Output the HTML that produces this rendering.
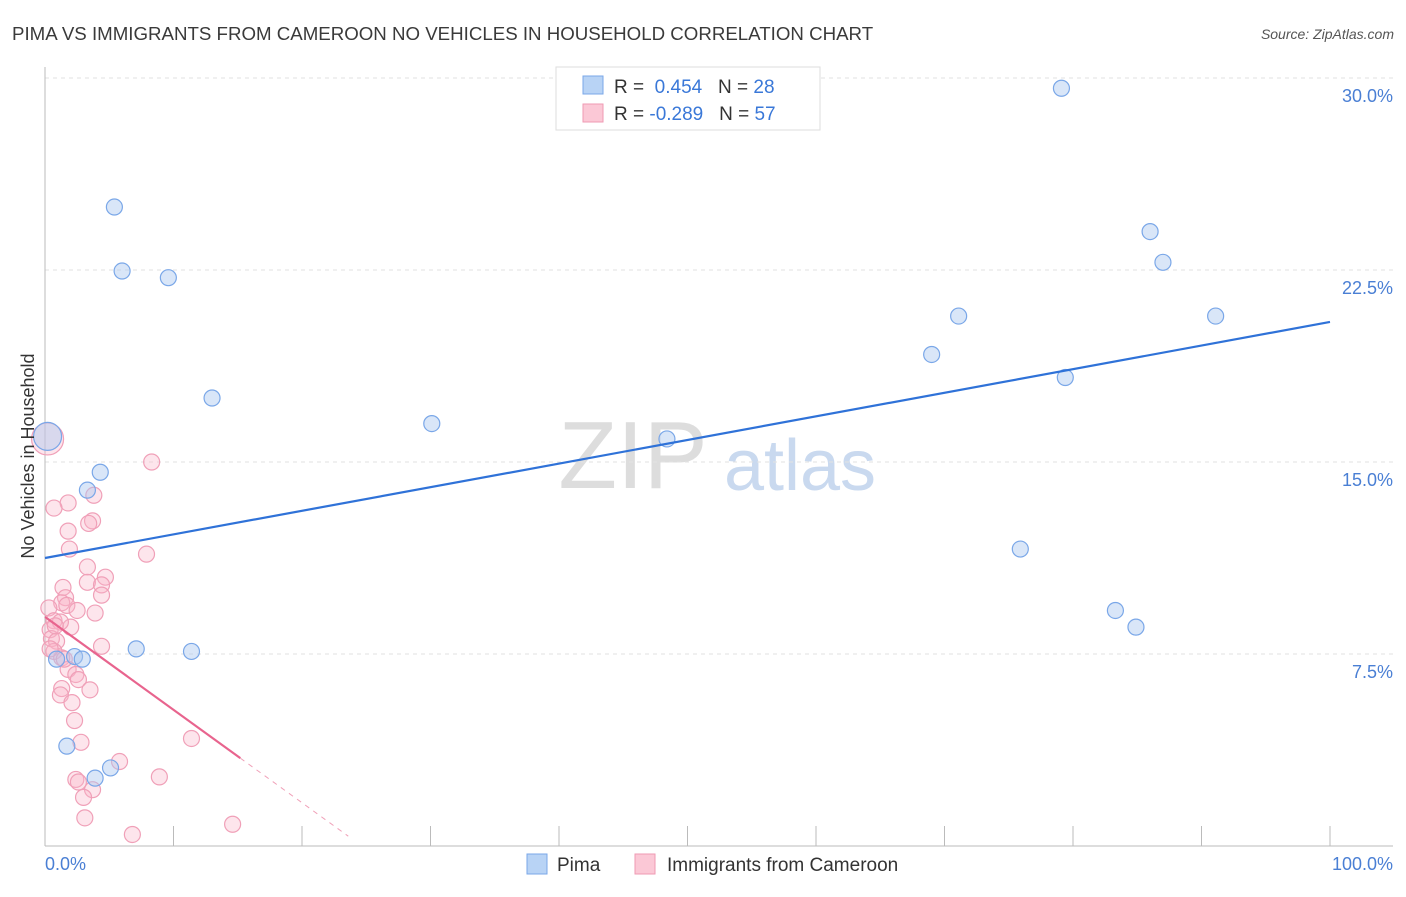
<!DOCTYPE html>
<html><head><meta charset="utf-8"><style>
body{margin:0;background:#fff;font-family:"Liberation Sans",sans-serif;}
svg text{font-family:"Liberation Sans",sans-serif;}
</style></head><body>
<svg width="1406" height="892" id="c">
<text x="12" y="40" font-size="18.7" fill="#3a3a3a">PIMA VS IMMIGRANTS FROM CAMEROON NO VEHICLES IN HOUSEHOLD CORRELATION CHART</text>
<text x="1394" y="39" font-size="14" fill="#555" text-anchor="end" font-style="italic">Source: ZipAtlas.com</text>
<text x="633" y="488" font-size="96" fill="#ddd" font-family="Liberation Serif" text-anchor="middle">ZIP</text>
<text x="800" y="490" font-size="72" fill="#c9d9ef" text-anchor="middle">atlas</text>
<g id="grid"></g><g id="axes"></g><g id="marks"></g>
<text transform="translate(34,456) rotate(-90)" font-size="18" fill="#333" text-anchor="middle">No Vehicles in Household</text>
<text x="45" y="870" font-size="18" fill="#4a7fd4">0.0%</text>
<text x="1393" y="870" font-size="18" fill="#4a7fd4" text-anchor="end">100.0%</text>
<g>
<rect x="556" y="67" width="264" height="63" fill="#fff" stroke="#ddd"/>
<rect x="583" y="76" width="20" height="18" fill="#b8d3f5" stroke="#7aa7e8"/>
<rect x="583" y="104" width="20" height="18" fill="#fbc8d6" stroke="#ef9ab3"/>
<text x="614" y="93" font-size="19" fill="#333">R = <tspan fill="#3a78d8">&#160;0.454</tspan>&#160;&#160;&#160;N = <tspan fill="#3a78d8">28</tspan></text>
<text x="614" y="120" font-size="19" fill="#333">R = <tspan fill="#3a78d8">-0.289</tspan>&#160;&#160;&#160;N = <tspan fill="#3a78d8">57</tspan></text>
</g>
<g>
<rect x="527" y="854" width="20" height="20" fill="#b8d3f5" stroke="#7aa7e8"/>
<text x="557" y="871" font-size="19" fill="#333">Pima</text>
<rect x="635" y="854" width="20" height="20" fill="#fbc8d6" stroke="#ef9ab3"/>
<text x="667" y="871" font-size="19" fill="#333">Immigrants from Cameroon</text>
</g>
</svg>
<script>
const yTicks=[7.5,15,22.5,30];
const yTickLabels=["7.5%","15.0%","22.5%","30.0%"];
const xTicks=[0,10,20,30,40,50,60,70,80,90,100];
const pimaX=[5.4,6.0,9.6,13.0,30.1,48.4,4.3,3.3,7.1,11.4,2.3,2.9,0.9,1.7,3.9,5.1,79.1,86.0,87.0,91.1,71.1,69.0,79.4,75.9,83.3,84.9,0.2];
const pimaY=[24.96,22.46,22.2,17.5,16.5,15.9,14.6,13.9,7.7,7.6,7.4,7.3,7.3,3.9,2.65,3.05,29.6,24.0,22.8,20.7,20.7,19.2,18.3,11.6,9.2,8.55,16.0];
const camX=[8.3,1.8,0.7,3.8,3.7,3.4,1.8,1.9,7.9,3.3,4.7,1.4,3.3,4.4,4.4,1.6,1.3,1.7,0.3,2.5,3.9,0.7,2.0,1.2,0.4,0.5,0.9,4.4,0.7,1.3,1.8,2.4,2.6,3.5,1.3,1.2,2.1,2.3,2.8,11.4,5.8,2.4,2.6,8.9,3.7,3.0,3.1,6.8,14.6,0.2,0.4,1.5,0.8];
const camY=[15.0,13.4,13.2,13.7,12.7,12.6,12.3,11.6,11.4,10.9,10.5,10.1,10.3,10.2,9.8,9.7,9.5,9.4,9.3,9.2,9.1,8.8,8.55,8.75,8.45,8.1,8.0,7.8,7.6,7.35,6.9,6.7,6.5,6.1,6.15,5.9,5.6,4.9,4.05,4.2,3.3,2.6,2.5,2.7,2.2,1.9,1.1,0.45,0.85,15.9,7.7,7.3,8.6];
const pimaTrend=[11.25,20.47];
const camTrend=[8.95,-0.363];
const X=v=>45+v*12.85, Y=v=>846-v*25.6;
const NS="http://www.w3.org/2000/svg";
function mk(p,t,a){const e=document.createElementNS(NS,t);for(const k in a)e.setAttribute(k,a[k]);p.appendChild(e);return e;}
const grid=document.getElementById('grid'),axes=document.getElementById('axes'),marks=document.getElementById('marks');
yTicks.forEach((t,i)=>{
 const l=mk(grid,'line',{x1:45,x2:1393,y1:Y(t),y2:Y(t),stroke:'#e2e2e2','stroke-dasharray':'4,4'});
 
 
 const tx=mk(grid,'text',{x:1393,y:Y(t)+24,'font-size':18,fill:'#4a7fd4','text-anchor':'end'});
 tx.textContent=yTickLabels[i];
 
 
});
const ya=mk(axes,'line',{x1:45,x2:45,y1:67,y2:846,stroke:'#bbb'});


const xa=mk(axes,'line',{x1:45,x2:1393,y1:846,y2:846,stroke:'#bbb'});


xTicks.forEach(t=>{const l=mk(axes,'line',{x1:X(t),x2:X(t),y1:826,y2:846,stroke:'#bbb'});
 
 });
camX.forEach((x,i)=>{const big=i==49;const c=mk(marks,'circle',{cx:X(x),cy:Y(camY[i]),r:big?16:8,fill:'rgba(248,180,200,0.35)',stroke:'#f0a0b8','stroke-width':1.2});
 
 });
pimaX.forEach((x,i)=>{const big=i==26;const c=mk(marks,'circle',{cx:X(x),cy:Y(pimaY[i]),r:big?14:8,fill:'rgba(170,200,240,0.45)',stroke:'#7aa7e8','stroke-width':1.2});
 
 });
const pt=mk(marks,'line',{x1:X(0),y1:Y(pimaTrend[0]),x2:X(100),y2:Y(pimaTrend[1]),stroke:'#2f72d8','stroke-width':2.2});


const c1=mk(marks,'line',{x1:X(0),y1:Y(camTrend[0]),x2:X(15.2),y2:Y(camTrend[0]+camTrend[1]*15.2),stroke:'#e8648e','stroke-width':2.2});


const c2=mk(marks,'line',{x1:X(15.2),y1:Y(camTrend[0]+camTrend[1]*15.2),x2:X(23.6),y2:Y(camTrend[0]+camTrend[1]*23.6),stroke:'#f0a0b8','stroke-width':1,'stroke-dasharray':'5,5'});


</script>
</body></html>
